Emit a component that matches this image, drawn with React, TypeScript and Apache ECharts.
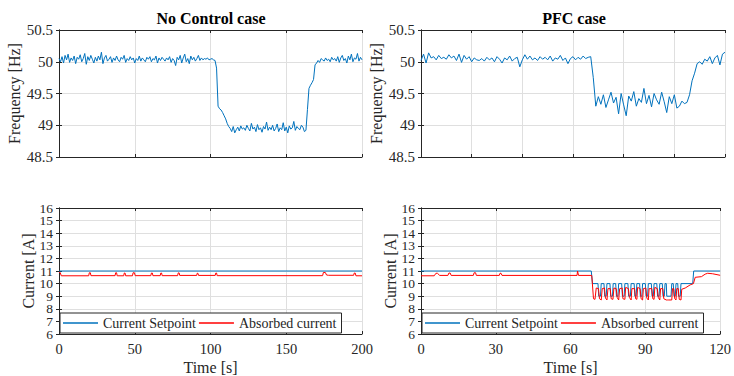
import React, { useEffect, useRef } from "react";
import * as echarts from "echarts";

// ---------- DATA ----------
// Frequency, No Control case: one sample per second, t = 0 .. 200 s
const freqNoControl: number[] = [
  50.05, 50.00, 50.08, 49.98, 50.10, 50.03, 50.12, 49.99, 50.06, 50.02,
  50.09, 49.97, 50.07, 50.04, 50.11, 50.00, 50.05, 50.13, 49.96, 50.08,
  50.02, 50.10, 50.04, 49.98, 50.07, 50.01, 50.09, 50.03, 50.15, 49.97,
  50.06, 50.10, 50.01, 50.04, 50.08, 49.99, 50.06, 50.02, 50.09, 50.03,
  50.00, 50.07, 50.04, 50.10, 49.99, 50.05, 50.02, 50.08, 50.03, 50.06,
  49.98, 50.05, 50.02, 50.09, 50.01, 50.06, 50.03, 50.00, 50.07, 50.04,
  50.08, 50.00, 50.05, 50.03, 50.09, 49.98, 50.06, 50.02, 50.07, 50.04,
  50.01, 50.06, 50.03, 50.08, 49.99, 50.05, 50.02, 49.94, 50.07, 50.03,
  50.10, 49.98, 50.06, 50.12, 50.00, 50.05, 49.97, 50.09, 50.03, 50.07,
  50.01, 50.05, 50.10, 50.02, 50.06, 50.03, 50.05, 50.04, 50.06, 50.03,
  50.04, 50.05, 50.03, 50.02,
  49.90,
  49.30, 49.26, 49.24, 49.20, 49.15, 49.10, 49.03, 48.98,
  48.95, 48.90, 48.98, 48.88, 48.93, 48.97, 48.91, 48.99, 48.94, 48.96,
  48.92, 49.00, 48.95, 48.91, 49.03, 48.94, 48.97, 48.90, 49.01, 48.93,
  48.96, 48.89, 48.98, 48.94, 49.05, 48.92, 48.97, 48.93, 49.00, 48.91,
  48.95, 49.02, 48.90, 48.96, 48.93, 49.04, 48.91, 48.97, 48.88, 48.99,
  48.94, 48.96, 49.06, 48.92, 48.98, 48.95, 48.93, 49.00, 48.97, 48.90,
  48.92, 49.25, 49.58, 49.63, 49.67, 49.72, 49.95, 49.98,
  50.02, 49.99, 50.05, 50.03, 50.01, 50.06, 50.02, 50.04, 50.00, 50.07,
  50.03, 50.05, 50.01, 50.08, 49.99, 50.06, 50.10, 50.02, 50.05, 49.98,
  50.09, 50.03, 50.12, 50.00, 50.06, 50.04, 50.13, 50.01, 50.07, 50.03,
];

// Frequency, PFC case: one sample per second, t = 0 .. 120 s
const freqPFC: number[] = [
  50.02, 50.12, 49.98, 50.14, 50.06, 50.08, 50.03, 50.10, 50.05, 50.07,
  50.04, 50.11, 50.06, 50.09, 50.02, 50.12, 49.99, 50.10, 50.04, 50.08,
  50.00, 50.06, 50.03, 50.02, 50.05, 50.01, 50.07, 50.03, 50.06, 50.00,
  50.08, 50.04, 49.98, 50.06, 50.03, 50.09, 50.01, 50.05, 50.07, 49.92,
  50.03, 50.11, 50.04, 50.09, 50.03, 50.06, 50.02, 50.08, 50.04, 50.07,
  50.03, 50.09, 50.01, 50.06, 50.04, 50.10, 50.02, 50.06, 49.97, 50.05,
  50.08, 50.03, 50.07, 50.04, 50.09, 50.05, 50.07, 50.08,
  49.75,
  49.30, 49.45, 49.33, 49.48, 49.28, 49.40, 49.52, 49.35, 49.44, 49.18,
  49.50, 49.32, 49.15, 49.46, 49.38, 49.53, 49.30, 49.42, 49.36, 49.58,
  49.34, 49.47, 49.29, 49.50, 49.40, 49.33, 49.52, 49.37, 49.20, 49.45,
  49.34, 49.48, 49.27, 49.30, 49.38, 49.34, 49.36,
  49.48, 49.70, 49.82, 49.97, 50.00, 49.96, 50.04, 50.01, 50.08, 49.97,
  50.06, 50.10, 49.95, 50.12, 50.15,
];
const freqStep = 1; // seconds between frequency samples

// Currents: [time s, current A]
const setpointNoControl: [number, number][] = [[0, 11], [200, 11]];
const absorbedNoControl: [number, number][] = [
  [0, 10.88], [0.8, 10.88], [1.5, 10.62], [19.6, 10.62], [20, 10.86], [20.7, 10.86], [21.1, 10.63],
  [37, 10.63], [37.4, 10.86], [38, 10.86], [38.4, 10.62], [42.7, 10.62], [43.1, 10.84], [43.6, 10.84],
  [44, 10.62], [48.5, 10.62], [48.9, 10.86], [49.8, 10.86], [50.3, 10.63], [60.6, 10.63], [61, 10.84],
  [61.6, 10.84], [62, 10.63], [66.8, 10.63], [67.2, 10.84], [67.7, 10.84], [68.1, 10.63], [78.3, 10.63],
  [78.7, 10.85], [79.3, 10.85], [79.7, 10.65], [90.9, 10.65], [91.2, 10.82], [91.7, 10.82], [92.1, 10.65],
  [103.1, 10.65], [103.5, 10.84], [104, 10.84], [104.4, 10.63], [174, 10.63], [174.5, 10.88], [175.8, 10.88],
  [176.6, 10.68], [178, 10.66], [194.5, 10.66], [194.9, 10.84], [195.5, 10.84], [196, 10.62], [200, 10.62],
];

const setpointPFC: [number, number][] = [
  [0, 11], [68.3, 11], [68.8, 10], [71, 10], [71.3, 9], [72, 9], [72.3, 10], [73.4, 10], [73.7, 9], [74.3, 9],
  [74.6, 10], [75.8, 10], [76.1, 9], [76.8, 9], [77.1, 10], [78.1, 10], [78.4, 9], [79, 9], [79.3, 10],
  [80.5, 10], [80.8, 9], [81.5, 9], [81.8, 10], [83, 10], [83.3, 9], [84, 9], [84.3, 10], [85.5, 10],
  [85.8, 9], [86.3, 9], [86.6, 10], [87.7, 10], [88, 9], [88.6, 9], [88.9, 10], [90, 10], [90.3, 9],
  [90.9, 9], [91.2, 10], [92.4, 10], [92.7, 9], [93.2, 9], [93.5, 10], [94.6, 10], [94.9, 9], [95.5, 9],
  [95.8, 10], [96.8, 10], [97.1, 9], [97.6, 9], [97.9, 10], [98.4, 10], [98.6, 9], [100.3, 9], [100.6, 10],
  [101.2, 10], [101.5, 9], [102, 9], [102.3, 10], [103, 10], [103.3, 9], [104, 9], [104.3, 10], [109, 10],
  [109.4, 11], [120, 11],
];
const absorbedPFC: [number, number][] = [
  [0, 10.62], [5.3, 10.62], [6, 10.82], [6.6, 10.82], [7.5, 10.65], [10.8, 10.65], [11.2, 10.84], [11.7, 10.84],
  [12.1, 10.65], [21, 10.65], [21.3, 10.86], [21.9, 10.86], [22.2, 10.65], [31.4, 10.65], [31.7, 10.82],
  [32.1, 10.82], [32.5, 10.65], [62.6, 10.65], [62.8, 11.0], [63.0, 11.0], [63.2, 10.65], [68.5, 10.65],
  [69.2, 8.8], [69.8, 8.75], [70.3, 9.65], [71.2, 9.6], [71.6, 8.8], [72.3, 8.7], [72.7, 9.6], [73.6, 9.65],
  [74, 8.85], [74.6, 8.7], [75, 9.6], [75.9, 9.6], [76.3, 8.8], [77, 8.75], [77.4, 9.65], [78.3, 9.6],
  [78.7, 8.9], [79.3, 8.7], [79.7, 9.6], [80.7, 9.65], [81, 8.8], [81.8, 8.75], [82.1, 9.7], [83.2, 9.6],
  [83.6, 8.9], [84.3, 8.7], [84.6, 9.6], [85.7, 9.6], [86.1, 8.8], [86.6, 8.75], [86.9, 9.7], [87.9, 9.6],
  [88.3, 8.8], [88.9, 8.7], [89.2, 9.6], [90.2, 9.65], [90.6, 8.85], [91.2, 8.7], [91.5, 9.6], [92.6, 9.6],
  [93, 8.8], [93.5, 8.75], [93.8, 9.7], [94.8, 9.6], [95.2, 8.9], [95.8, 8.7], [96.1, 9.6], [97, 9.6],
  [97.4, 8.8], [98.4, 8.7], [98.9, 8.7], [99.2, 8.7], [100.6, 8.7], [100.9, 9.6], [101.4, 9.6], [101.8, 8.8],
  [102.3, 8.7], [102.6, 9.6], [103.2, 9.6], [103.6, 8.75], [104.3, 8.7], [104.6, 9.55], [106, 9.65],
  [108, 9.9], [109.3, 10.0], [110, 10.5], [112.5, 10.55], [114, 10.75], [115, 10.82], [117, 10.78], [120, 10.66],
];

const currentTicks = [6, 7, 8, 9, 10, 11, 12, 13, 14, 15, 16];
const titles = ["No Control case", "PFC case"];
const seriesNames = ["Current Setpoint", "Absorbed current"];

// ---------- STYLE ----------
const FONT = "Liberation Serif";
const DARK = "#262626";
const GRIDC = "#dfdfdf";
const BLUE = "#0072BD";
const RED = "#FF0000";

const grids = [
  { left: 59, top: 30, width: 303, height: 127 },
  { left: 421, top: 30, width: 304, height: 127 },
  { left: 59, top: 208, width: 303, height: 126 },
  { left: 421, top: 208, width: 304, height: 126 },
];
const xCfg = [
  { max: 200, interval: 50, labels: false },
  { max: 120, interval: 20, labels: false },
  { max: 200, interval: 50, labels: true },
  { max: 120, interval: 30, labels: true },
];
const yCfg = [
  { min: 48.5, max: 50.5, interval: 0.5, name: "Frequency [Hz]" },
  { min: 48.5, max: 50.5, interval: 0.5, name: "Frequency [Hz]" },
  { min: 6, max: 16, interval: 1, name: "Current [A]" },
  { min: 6, max: 16, interval: 1, name: "Current [A]" },
];

export default function App() {
  const ref = useRef<HTMLDivElement>(null);
  useEffect(() => {
    if (!ref.current) return;
    const chart = echarts.init(ref.current, undefined, { renderer: "svg" });

    const xAxis: any[] = [];
    const yAxis: any[] = [];
    grids.forEach((_, g) => {
      const xc = xCfg[g];
      xAxis.push({
        type: "value", gridIndex: g, min: 0, max: xc.max, interval: xc.interval, position: "bottom",
        axisLine: { lineStyle: { color: DARK, width: 1 } },
        axisTick: { inside: true, length: 3, lineStyle: { color: DARK } },
        axisLabel: { show: xc.labels, margin: 7, fontSize: 14.5, fontFamily: FONT, color: DARK, showMinLabel: true, showMaxLabel: true },
        splitLine: { show: true, lineStyle: { color: GRIDC, width: 1 } },
        name: xc.labels ? "Time [s]" : "", nameLocation: "middle", nameGap: 25,
        nameTextStyle: { fontSize: 16, fontFamily: FONT, color: DARK },
      });
      xAxis.push({
        type: "value", gridIndex: g, min: 0, max: xc.max, interval: xc.interval, position: "top",
        axisLine: { lineStyle: { color: DARK, width: 1 } },
        axisTick: { inside: true, length: 3, lineStyle: { color: DARK } },
        axisLabel: { show: false }, splitLine: { show: false },
      });
      const yc = yCfg[g];
      const isCur = g >= 2;
      yAxis.push({
        type: "value", gridIndex: g, min: yc.min, max: yc.max, interval: yc.interval, position: "left",
        axisLine: { show: true, lineStyle: { color: DARK, width: 1 } },
        axisTick: { show: true, inside: true, length: 3, lineStyle: { color: DARK } },
        axisLabel: {
          show: !isCur, margin: 6, fontSize: 15, fontFamily: FONT, color: DARK,
          showMinLabel: true, showMaxLabel: true,
        },
        splitLine: { show: true, lineStyle: { color: GRIDC, width: 1 } },
        name: yc.name, nameLocation: "middle", nameGap: isCur ? 23 : 35,
        nameTextStyle: { fontSize: 16, fontFamily: FONT, color: DARK },
      });
      yAxis.push({
        type: "value", gridIndex: g, min: yc.min, max: yc.max, interval: yc.interval, position: "right",
        axisLine: { show: true, lineStyle: { color: DARK, width: 1 } },
        axisTick: { show: true, inside: true, length: 3, lineStyle: { color: DARK } },
        axisLabel: { show: false }, splitLine: { show: false },
      });
    });

    const line = (name: string, data: any[], g: number, color: string) => ({
      name, type: "line", data, xAxisIndex: g * 2, yAxisIndex: g * 2,
      symbol: "none", showSymbol: false, lineStyle: { color, width: 1 }, itemStyle: { color },
      silent: true,
    });

    const legendBase = {
      data: seriesNames.map((n) => ({ name: n, icon: "path://M0,0 L35,0 L35,1.3 L0,1.3 Z" })),
      top: 313, orient: "horizontal", itemWidth: 35, itemHeight: 1.3, itemGap: 3,
      padding: [3, 5, 3, 3], backgroundColor: "#fff", borderColor: DARK, borderWidth: 1, borderRadius: 0,
      textStyle: { fontSize: 14, fontFamily: FONT, color: DARK },
      selectedMode: false,
    };

    chart.setOption({
      animation: false,
      backgroundColor: "#fff",
      textStyle: { fontFamily: FONT },
      grid: grids.map((g) => ({ ...g, containLabel: false })),
      xAxis, yAxis,
      legend: [{ ...legendBase, left: 60 }, { ...legendBase, left: 422 }],
      series: [
        line("Frequency NC", freqNoControl.map((v, i) => [i * freqStep, v]), 0, BLUE),
        line("Frequency PFC", freqPFC.map((v, i) => [i * freqStep, v]), 1, BLUE),
        line(seriesNames[0], setpointNoControl, 2, BLUE),
        line(seriesNames[1], absorbedNoControl, 2, RED),
        line(seriesNames[0], setpointPFC, 3, BLUE),
        line(seriesNames[1], absorbedPFC, 3, RED),
      ],
    });

    // Titles, and current tick labels placed through the axis scale
    const graphics: any[] = [
      { type: "text", x: 211, y: 18, style: { text: titles[0], align: "center", verticalAlign: "middle", fontFamily: FONT, fontWeight: "bold", fontSize: 16, fill: "#000" } },
      { type: "text", x: 574, y: 18, style: { text: titles[1], align: "center", verticalAlign: "middle", fontFamily: FONT, fontWeight: "bold", fontSize: 16, fill: "#000" } },
    ];
    [2, 3].forEach((g) => {
      currentTicks.forEach((v) => {
        const [px, py] = chart.convertToPixel({ xAxisIndex: g * 2, yAxisIndex: g * 2 }, [0, v]) as number[];
        graphics.push({
          type: "text", x: px - 6, y: py,
          style: { text: String(v), align: "right", verticalAlign: "middle", fontFamily: FONT, fontSize: 13.5, lineHeight: 12, fill: DARK },
        });
      });
    });
    chart.setOption({ graphic: graphics });
    return () => chart.dispose();
  }, []);
  return (
    <div
      ref={ref}
      style={{ position: "absolute", left: 0, top: 0, width: 734, height: 376, background: "#fff" }}
    />
  );
}
